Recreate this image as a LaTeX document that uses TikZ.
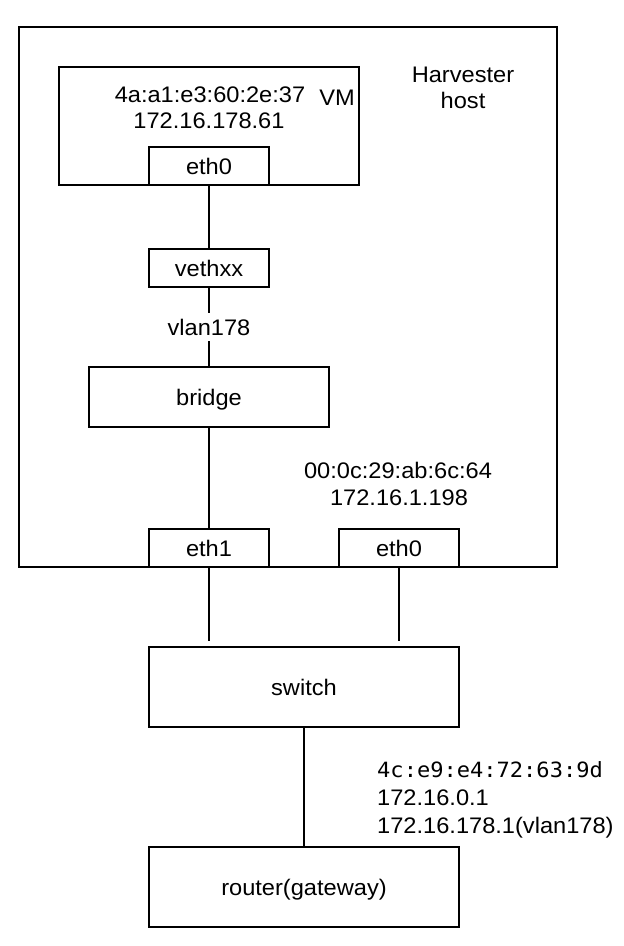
\documentclass[tikz,border=0pt]{standalone}
\usepackage{fontspec}
\setmainfont[FakeStretch=1.05]{Liberation Sans}
\newfontfamily\macfont[FakeStretch=1.05]{DejaVu Sans Mono}
\begin{document}
\begin{tikzpicture}[x=1pt,y=-1pt,
  font=\fontsize{22.5}{27}\selectfont,
  box/.style={draw, line width=2pt, inner sep=0pt, text height=16pt, text depth=0pt},
  lbl/.style={inner sep=0pt, anchor=base},
  wire/.style={draw, line width=2pt}]
\useasboundingbox (0,0) rectangle (624,946);
% boxes
\node[box, minimum width=538pt, minimum height=540pt] (host) at (288,297) {};
\node[box, minimum width=300pt, minimum height=118pt] (vm) at (209,126) {};
\node[box, fill=white, minimum width=120pt, minimum height=38pt] (veth0) at (209,166) {eth0};
\node[box, minimum width=120pt, minimum height=38pt] (vethxx) at (209,268) {vethxx};
\node[box, minimum width=240pt, minimum height=60pt] (bridge) at (209,397) {bridge};
\node[box, fill=white, minimum width=120pt, minimum height=38pt] (eth1) at (209,548) {eth1};
\node[box, fill=white, minimum width=120pt, minimum height=38pt] (eth0h) at (399,548) {eth0};
\node[box, minimum width=310pt, minimum height=80pt] (switch) at (304,687) {switch};
\node[box, minimum width=310pt, minimum height=80pt] (router) at (304,887) {router(gateway)};
% labels
\node[lbl] (hv1) at (463,82) {Harvester};
\node[lbl] (hv2) at (463,108) {host};
\node[lbl] (vmmac) at (210,102) {4a:a1:e3:60:2e:37};
\node[lbl] (vmip) at (209,128) {172.16.178.61};
\node[lbl] (vmname) at (337,105) {VM};
\node[lbl] (hmac) at (398,478) {00:0c:29:ab:6c:64};
\node[lbl] (hip) at (399,505) {172.16.1.198};
\node[lbl, anchor=base west] (rmac) at (377,777) {\macfont\fontsize{21}{27}\selectfont 4c:e9:e4:72:63:9d};
\node[lbl, anchor=base west] (rip1) at (377,805) {172.16.0.1};
\node[lbl, anchor=base west] (rip2) at (377,833) {172.16.178.1(vlan178)};
% connectors
\draw[wire] (veth0.south) -- (vethxx.north);
\draw[wire] (vethxx.south) -- node[fill=white, inner xsep=2pt, inner ysep=6pt, text height=16pt, text depth=0pt] (vlan) {vlan178} (bridge.north);
\draw[wire] (bridge.south) -- (eth1.north);
\draw[wire, shorten >=5pt] (eth1.south) -- (eth1.south |- switch.north);
\draw[wire, shorten >=5pt] (eth0h.south) -- (eth0h.south |- switch.north);
\draw[wire] (switch.south) -- (router.north);
\end{tikzpicture}
\end{document}
